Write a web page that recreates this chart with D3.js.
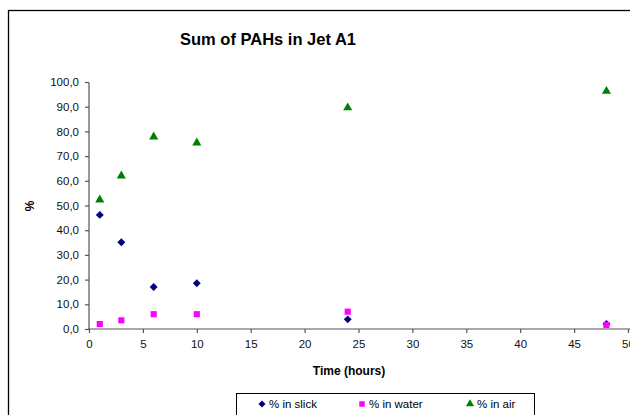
<!DOCTYPE html>
<html><head><meta charset="utf-8">
<script src="https://cdn.jsdelivr.net/npm/d3@7"></script>
<style>body{margin:0;background:#fff}svg{display:block}text{font-family:Arial,"Liberation Sans",sans-serif}</style>
</head><body>
<svg id="c" width="630" height="415"></svg>
<script>
const times = [1, 3, 6, 10, 24, 48];
const slick = [46.2, 35.1, 17.0, 18.5, 3.9, 2.0];
const water = [2.0, 3.5, 6.0, 6.0, 7.0, 1.6];
const air = [52.3, 62.0, 77.8, 75.4, 89.6, 96.3];
const xTicks = [0, 5, 10, 15, 20, 25, 30, 35, 40, 45, 50];
const yTicks = [0, 10, 20, 30, 40, 50, 60, 70, 80, 90, 100];
const seriesNames = ["% in slick", "% in water", "% in air"];
const title = "Sum of PAHs in Jet A1";

const svg = d3.select("#c");
svg.append("rect").attr("x",8.5).attr("y",10.5).attr("width",640).attr("height",420)
  .attr("fill","#fff").attr("stroke","#000").attr("stroke-width",1.3);

const x = d3.scaleLinear().domain([0,50]).range([89,628]);
const y = d3.scaleLinear().domain([0,100]).range([329,82]);

svg.append("text").attr("x",268).attr("y",45).attr("text-anchor","middle")
  .attr("font-weight","bold").attr("font-size","16.5px").text(title);

const fmt = d => d.toFixed(1).replace(".", ",");
const ya = svg.append("g").attr("transform","translate(89,0)")
  .call(d3.axisLeft(y).tickValues(yTicks).tickFormat(fmt).tickSize(4).tickPadding(6));
const xa = svg.append("g").attr("transform","translate(0,329)")
  .call(d3.axisBottom(x).tickValues(xTicks).tickFormat(d3.format("d")).tickSize(4).tickPadding(7));
[ya, xa].forEach(a => {
  a.selectAll("path,line").attr("stroke","#555").attr("stroke-width",1.2);
  a.selectAll("text").attr("font-size","11.5px").attr("fill","#111")
   .style("font-family","Arial, 'Liberation Sans', sans-serif");
});
ya.select(".domain").attr("d","M0,82.5V329.5");
xa.select(".domain").attr("d","M88.5,0H640");

svg.append("text").attr("transform","translate(34,206) rotate(-90)").attr("text-anchor","middle")
  .attr("font-weight","bold").attr("font-size","12px").text("%");
svg.append("text").attr("x",349).attr("y",375).attr("text-anchor","middle")
  .attr("font-weight","bold").attr("font-size","12px").text("Time (hours)");

const sym = [d3.symbolDiamond2, d3.symbolSquare, d3.symbolTriangle];
const sizes = [40, 38, 36];
const colors = ["#000080", "#FF00FF", "#008000"];
const data = [slick, water, air];
data.forEach((vals, i) => {
  svg.append("g").selectAll("path").data(vals).join("path")
    .attr("transform",(d,j)=>`translate(${x(times[j])},${y(d)})`)
    .attr("d", d3.symbol().type(sym[i]).size(sizes[i]))
    .attr("fill", colors[i]);
});

// legend
svg.append("rect").attr("x",236.5).attr("y",393.5).attr("width",298).attr("height",30)
  .attr("fill","#fff").attr("stroke","#000");
const lx = [262, 362, 470];
seriesNames.forEach((n, i) => {
  svg.append("path").attr("transform",`translate(${lx[i]},404)`)
    .attr("d", d3.symbol().type(sym[i]).size(sizes[i]*0.8)).attr("fill", colors[i]);
  svg.append("text").attr("x", lx[i]+7).attr("y", 408).attr("font-size","11.5px").text(n);
});
</script>
</body></html>
